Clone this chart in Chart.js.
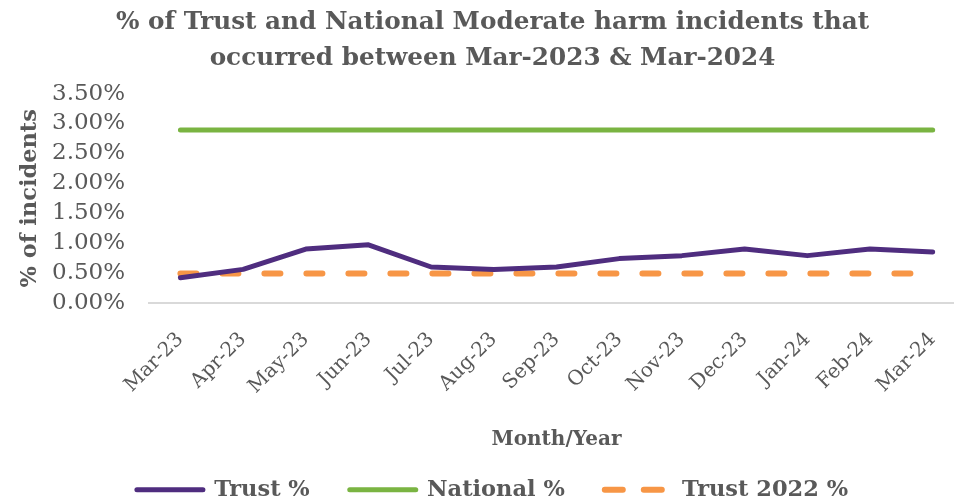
<!DOCTYPE html>
<html>
<head>
<meta charset="utf-8">
<script src="https://cdn.jsdelivr.net/npm/chart.js@4.4.1/dist/chart.umd.min.js"></script>
<style>
    html, body { margin: 0; padding: 0; background: #ffffff; overflow: hidden; }
    #wrap { position: absolute; left: 0; top: 0; width: 984px; height: 502px; }
</style>
</head>
<body>
<div id="wrap"><canvas id="harmChart"></canvas></div>
<script>
const months = ['Mar-23', 'Apr-23', 'May-23', 'Jun-23', 'Jul-23', 'Aug-23', 'Sep-23',
                'Oct-23', 'Nov-23', 'Dec-23', 'Jan-24', 'Feb-24', 'Mar-24'];
const trustPct = [0.42, 0.56, 0.90, 0.97, 0.60, 0.56, 0.60, 0.74, 0.79, 0.90, 0.79, 0.90, 0.85];
const nationalPct = [2.89, 2.89, 2.89, 2.89, 2.89, 2.89, 2.89, 2.89, 2.89, 2.89, 2.89, 2.89, 2.89];
const trust2022Pct = [0.49, 0.49, 0.49, 0.49, 0.49, 0.49, 0.49, 0.49, 0.49, 0.49, 0.49, 0.49, 0.49];

const TEXT = '#595959';
const SERIF = "'DejaVu Serif', serif";

const ctx = document.getElementById('harmChart').getContext('2d');

new Chart(ctx, {
    type: 'line',
    data: {
        labels: months,
        datasets: [
            {
                label: 'Trust %',
                data: trustPct,
                borderColor: '#4f2d7f',
                borderWidth: 5,
                borderCapStyle: 'round',
                borderJoinStyle: 'round',
                pointRadius: 0,
                tension: 0,
                order: 1
            },
            {
                label: 'National %',
                data: nationalPct,
                borderColor: '#7ab442',
                borderWidth: 5,
                borderCapStyle: 'round',
                pointRadius: 0,
                tension: 0,
                order: 2
            },
            {
                label: 'Trust 2022 %',
                data: trust2022Pct,
                borderColor: '#f79646',
                borderWidth: 6,
                borderDash: [16, 26],
                borderCapStyle: 'round',
                pointRadius: 0,
                tension: 0,
                order: 3
            }
        ]
    },
    options: {
        responsive: true,
        maintainAspectRatio: false,
        animation: false,
        layout: {
            padding: { left: 21, right: 20, top: 5, bottom: -9 }
        },
        plugins: {
            title: {
                display: true,
                text: ['% of Trust and National Moderate harm incidents that',
                       'occurred between Mar-2023 & Mar-2024'],
                color: TEXT,
                font: { family: SERIF, size: 24.7, weight: 'bold', lineHeight: 1.45 },
                padding: { top: 0, bottom: 17 }
            },
            legend: {
                display: true,
                position: 'bottom',
                labels: {
                    usePointStyle: true,
                    pointStyle: 'line',
                    pointStyleWidth: 66,
                    padding: 40,
                    color: TEXT,
                    font: { family: SERIF, size: 22.5, weight: 'bold' },
                    generateLabels: function(chart) {
                        const items = Chart.defaults.plugins.legend.labels.generateLabels(chart);
                        items.forEach(item => {
                            const ds = chart.data.datasets[item.datasetIndex];
                            item.lineDash = ds.borderDash ? [18, 21] : [];
                            item.lineCap = 'round';
                            item.lineWidth = ds.borderWidth;
                            item.strokeStyle = ds.borderColor;
                        });
                        return items;
                    }
                }
            },
            tooltip: { enabled: false }
        },
        scales: {
            x: {
                offset: true,
                grid: { display: false, drawTicks: false },
                border: { display: true, color: '#d9d9d9', width: 2 },
                ticks: {
                    color: TEXT,
                    font: { family: SERIF, size: 20 },
                    minRotation: 45,
                    maxRotation: 45,
                    autoSkip: false,
                    padding: 25
                },
                title: {
                    display: true,
                    text: 'Month/Year',
                    color: TEXT,
                    font: { family: SERIF, size: 20, weight: 'bold' },
                    padding: { top: 4, bottom: -13 }
                },
                afterFit: function(scale) {
                    // let the rotated first label hang into the left margin like the original
                    scale.paddingLeft = 0;
                    scale.paddingRight = 0;
                }
            },
            y: {
                min: 0,
                max: 3.5,
                grid: { display: false, drawTicks: false },
                border: { display: false },
                ticks: {
                    stepSize: 0.5,
                    autoSkip: false,
                    color: TEXT,
                    font: { family: SERIF, size: 23 },
                    padding: 24,
                    callback: function(value) {
                        return value.toFixed(2) + '%';
                    }
                },
                title: {
                    display: true,
                    text: '% of incidents',
                    color: TEXT,
                    font: { family: SERIF, size: 22.5, weight: 'bold' },
                    padding: { top: -4.5, bottom: -15.5 }
                }
            }
        }
    }
});
</script>
</body>
</html>
